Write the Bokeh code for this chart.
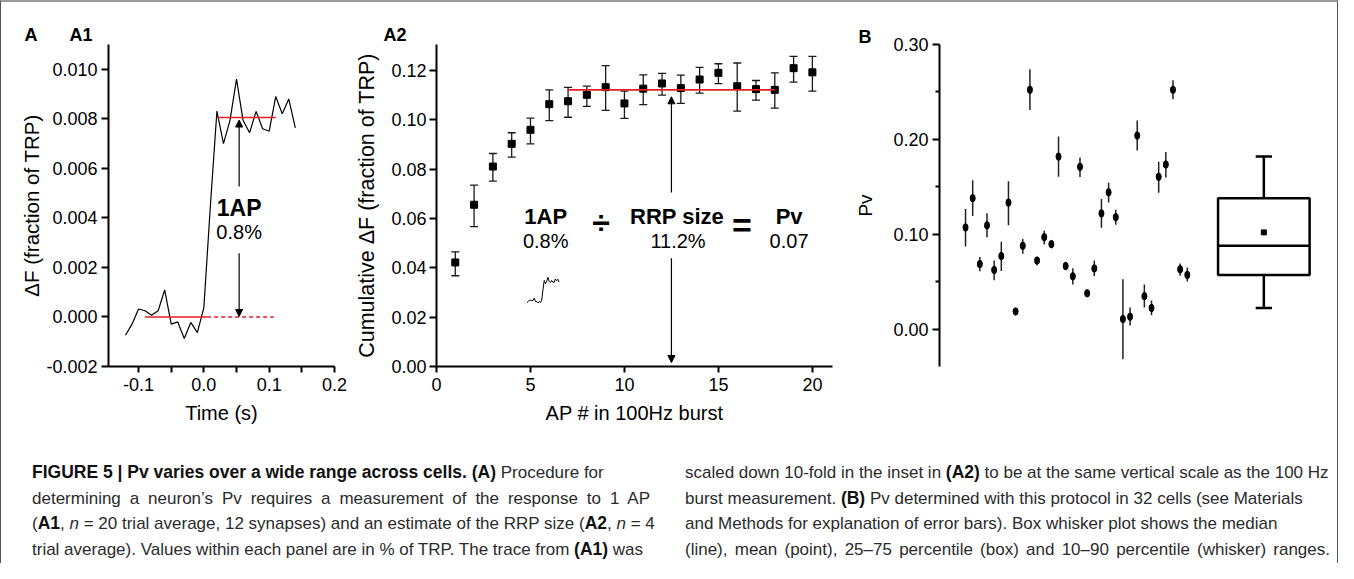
from bokeh.plotting import figure
from bokeh.models import (Range1d, FixedTicker, NumeralTickFormatter, Label, Arrow, Title,
                          NormalHead, Whisker, TeeHead, ColumnDataSource, Div)
from bokeh.layouts import row, column
from bokeh.embed import file_html
from bokeh.resources import INLINE

FONT = "Liberation Sans"
RED = "#e41e26"

# ---------------- data ----------------
# A1: 1 AP response (20-trial average)
a1_time = [-0.12, -0.11, -0.10, -0.09, -0.08, -0.07, -0.06, -0.05, -0.04, -0.03, -0.02, -0.01,
           0.00, 0.01, 0.02, 0.03, 0.04, 0.05, 0.06, 0.07, 0.08, 0.09, 0.10, 0.11, 0.12, 0.13, 0.14]
a1_dF = [-0.00074, -0.00029, 0.00032, 0.00025, 0.00007, 0.00025, 0.00109, -0.00029, -0.00020,
         -0.00087, -0.00022, -0.00063, 0.00038, 0.00450, 0.00831, 0.00700, 0.00794, 0.00960,
         0.00794, 0.00744, 0.00830, 0.00760, 0.00750, 0.00890, 0.00820, 0.00880, 0.00763]
a1_baseline = 0.0
a1_onep = 0.00805
a1_base_solid = [-0.09, 0.005]
a1_base_dash = [0.005, 0.107]
a1_step_span = [0.02, 0.11]

# A2: cumulative response in 100 Hz burst
a2_ap = [1, 2, 3, 4, 5, 6, 7, 8, 9, 10, 11, 12, 13, 14, 15, 16, 17, 18, 19, 20]
a2_cum = [0.0422, 0.0656, 0.0811, 0.0903, 0.0960, 0.1064, 0.1076, 0.1102, 0.1133, 0.1067,
          0.1127, 0.1148, 0.1129, 0.1164, 0.1191, 0.1137, 0.1125, 0.1122, 0.1210, 0.1193]
a2_upper = [0.0465, 0.0736, 0.0864, 0.0948, 0.1007, 0.1122, 0.1132, 0.1137, 0.1220, 0.1117,
            0.1183, 0.1189, 0.1182, 0.1213, 0.1228, 0.1231, 0.1160, 0.1191, 0.1258, 0.1258]
a2_lower = [0.0368, 0.0567, 0.0752, 0.0849, 0.0903, 0.0997, 0.1011, 0.1055, 0.1039, 0.1006,
            0.1062, 0.1101, 0.1067, 0.1109, 0.1147, 0.1036, 0.1080, 0.1048, 0.1153, 0.1117]
a2_rrp = 0.1122
a2_plateau = [7, 18]

# B: Pv in 32 cells
b_pv = [0.1071, 0.1380, 0.0685, 0.1093, 0.0623, 0.0769, 0.1333, 0.0185, 0.0877, 0.2522,
        0.0722, 0.0969, 0.0895, 0.1818, 0.0664, 0.0556, 0.1710, 0.0377, 0.0639, 0.1219,
        0.1441, 0.1179, 0.0105, 0.0130, 0.2040, 0.0346, 0.0222, 0.1605, 0.1735, 0.2522,
        0.0630, 0.0571]
b_hi = [0.1265, 0.1568, 0.0759, 0.1222, 0.0722, 0.0920, 0.1559, 0.0222, 0.0948, 0.2738,
        0.0759, 0.1037, 0.0932, 0.2031, 0.0698, 0.0642, 0.1809, 0.0401, 0.0722, 0.1370,
        0.1543, 0.1259, 0.0525, 0.0228, 0.2198, 0.0469, 0.0302, 0.1765, 0.1867, 0.2623,
        0.0691, 0.0648]
b_lo = [0.0870, 0.1191, 0.0608, 0.0969, 0.0515, 0.0611, 0.1093, 0.0148, 0.0793, 0.2309,
        0.0673, 0.0892, 0.0855, 0.1605, 0.0630, 0.0469, 0.1602, 0.0352, 0.0559, 0.1068,
        0.1333, 0.1099, -0.0318, 0.0037, 0.1883, 0.0228, 0.0145, 0.1438, 0.1599, 0.2423,
        0.0562, 0.0500]
b_p10, b_q1, b_median, b_mean, b_q3, b_p90 = 0.0222, 0.0571, 0.0877, 0.1019, 0.1380, 0.1818

# ticks
a1_xticks = [-0.1, 0.0, 0.1, 0.2]
a1_xminor = [-0.05, 0.05, 0.15]
a1_yticks = [-0.002, 0.0, 0.002, 0.004, 0.006, 0.008, 0.010]
a2_xticks = [0, 5, 10, 15, 20]
a2_yticks = [0.0, 0.02, 0.04, 0.06, 0.08, 0.10, 0.12]
b_yticks = [0.0, 0.1, 0.2, 0.3]
b_yminor = [0.05, 0.15, 0.25]

caption_left = [
    "<b>FIGURE 5 | Pv varies over a wide range across cells. (A)</b> Procedure for",
    "determining a neuron\u2019s Pv requires a measurement of the response to 1 AP",
    "(<b>A1</b>, <i>n</i> = 20 trial average, 12 synapses) and an estimate of the RRP size (<b>A2</b>, <i>n</i> = 4",
    "trial average). Values within each panel are in % of TRP. The trace from <b>(A1)</b> was",
]
caption_right = [
    "scaled down 10-fold in the inset in <b>(A2)</b> to be at the same vertical scale as the 100 Hz",
    "burst measurement. <b>(B)</b> Pv determined with this protocol in 32 cells (see Materials",
    "and Methods for explanation of error bars). Box whisker plot shows the median",
    "(line), mean (point), 25\u201375 percentile (box) and 10\u201390 percentile (whisker) ranges.",
]


# ---------------- helpers ----------------
def style(p):
    p.background_fill_color = "white"
    p.border_fill_color = "white"
    p.outline_line_color = None
    p.xgrid.visible = False
    p.ygrid.visible = False
    for ax in p.axis:
        ax.axis_line_width = 2
        ax.axis_line_color = "black"
        ax.major_tick_line_width = 2
        ax.minor_tick_line_width = 2
        ax.major_tick_line_color = "black"
        ax.minor_tick_line_color = "black"
        ax.major_tick_in = 0
        ax.minor_tick_in = 0
        ax.major_label_text_font = FONT
        ax.major_label_text_font_size = "18px"
        ax.major_label_text_color = "black"
        ax.axis_label_text_font = FONT
        ax.axis_label_text_font_style = "normal"
        ax.axis_label_text_font_size = "20px"
        ax.axis_label_text_color = "black"


def panel_title(p, text, offset, standoff):
    p.add_layout(Title(text=text, align="left", offset=offset, standoff=standoff,
                       text_font=FONT, text_font_size="18px", text_font_style="bold",
                       text_color="black"), "above")


def label(p, x, y, text, size, bold=False, align="center"):
    p.add_layout(Label(x=x, y=y, text=text, text_font=FONT, text_font_size=size,
                       text_font_style="bold" if bold else "normal", text_color="black",
                       text_align=align, text_baseline="middle"))


def arrow(p, x0, y0, x1, y1):
    p.add_layout(Arrow(end=NormalHead(size=7, fill_color="black", line_color="black", line_width=1),
                       x_start=x0, y_start=y0, x_end=x1, y_end=y1,
                       line_color="black", line_width=1.2))


H = 450

# ---------------- A1 ----------------
p1 = figure(width=351, height=H, x_range=Range1d(-0.146, 0.2), y_range=Range1d(-0.002, 0.011),
            min_border_left=107, min_border_right=18, min_border_top=42, min_border_bottom=86,
            output_backend="svg", toolbar_location=None)
style(p1)
p1.xaxis.ticker = FixedTicker(ticks=a1_xticks, minor_ticks=a1_xminor)
p1.xaxis.formatter = NumeralTickFormatter(format="0.0")
p1.xaxis.major_tick_out = 6
p1.xaxis.minor_tick_out = 6
p1.xaxis.major_label_standoff = 5
p1.yaxis.ticker = FixedTicker(ticks=a1_yticks)
p1.yaxis.formatter = NumeralTickFormatter(format="0.000")
p1.yaxis.major_tick_out = 7
p1.yaxis.major_label_standoff = 4
p1.xaxis.axis_label = "Time (s)"
p1.yaxis.axis_label = "\u0394F (fraction of TRP)"
p1.xaxis.axis_label_standoff = 8
p1.yaxis.axis_label_standoff = 0
p1.yaxis.axis_label_text_font_size = "20.5px"

p1.line(a1_time, a1_dF, line_color="black", line_width=1.2)
p1.line(a1_base_solid, [a1_baseline] * 2, line_color=RED, line_width=1.6)
p1.line(a1_base_dash, [a1_baseline] * 2, line_color=RED, line_width=1.4, line_dash="4 3")
p1.line(a1_step_span, [a1_onep] * 2, line_color=RED, line_width=1.6)
a1_arrow_x = 0.054
arrow(p1, a1_arrow_x, 0.00527, a1_arrow_x, a1_onep - 0.0001)
arrow(p1, a1_arrow_x, 0.00257, a1_arrow_x, a1_baseline + 0.00002)
label(p1, a1_arrow_x, 0.00439, "1AP", "23px", bold=True)
label(p1, a1_arrow_x, 0.00345, "%.1f%%" % (a1_onep * 100), "20px")
panel_title(p1, "A\u2003\u2002\u00a0A1", -84, -1.5)

# ---------------- A2 ----------------
p2 = figure(width=500, height=H, x_range=Range1d(0, 21.07), y_range=Range1d(0, 0.1306),
            min_border_left=73, min_border_right=20, min_border_top=42, min_border_bottom=86,
            output_backend="svg", toolbar_location=None)
style(p2)
p2.xaxis.ticker = FixedTicker(ticks=a2_xticks)
p2.xaxis.formatter = NumeralTickFormatter(format="0")
p2.xaxis.major_tick_out = 6
p2.xaxis.major_label_standoff = 5
p2.yaxis.ticker = FixedTicker(ticks=a2_yticks)
p2.yaxis.formatter = NumeralTickFormatter(format="0.00")
p2.yaxis.major_tick_out = 7
p2.yaxis.major_label_standoff = 3
p2.xaxis.axis_label = "AP # in 100Hz burst"
p2.yaxis.axis_label = "Cumulative \u0394F (fraction of TRP)"
p2.xaxis.axis_label_standoff = 8
p2.yaxis.axis_label_standoff = 9
p2.yaxis.axis_label_text_font_size = "21.5px"

src2 = ColumnDataSource(dict(x=a2_ap, y=a2_cum, upper=a2_upper, lower=a2_lower))
p2.add_layout(Whisker(source=src2, base="x", upper="upper", lower="lower", dimension="height",
                      line_color="#1a1a1a", line_width=1.3,
                      upper_head=TeeHead(size=8, line_width=1.3, line_color="#1a1a1a"),
                      lower_head=TeeHead(size=8, line_width=1.3, line_color="#1a1a1a")))
p2.scatter("x", "y", source=src2, marker="square", size=7, fill_color="black", line_color="black")
p2.line(a2_plateau, [a2_rrp] * 2, line_color=RED, line_width=1.6)

# inset: A1 trace on the A2 vertical scale
inset_x0, inset_xscale, inset_y0 = 5.6, 6.57, 0.0266
p2.line([inset_x0 + t * inset_xscale for t in a1_time], [inset_y0 + v for v in a1_dF],
        line_color="black", line_width=1.0)

a2_arrow_x = 12.5
arrow(p2, a2_arrow_x, 0.0706, a2_arrow_x, a2_rrp - 0.0028)
arrow(p2, a2_arrow_x, 0.0439, a2_arrow_x, 0.0016)
row1_y, row2_y = 0.0609, 0.0510
pv_value = a1_onep / a2_rrp
label(p2, 5.81, row1_y, "1AP", "22px", bold=True)
label(p2, 5.81, row2_y, "%.1f%%" % (a1_onep * 100), "20px")
label(p2, 8.75, 0.0582, "\u00f7", "32px", bold=True)
label(p2, 12.8, row1_y, "RRP size", "22px", bold=True)
label(p2, 12.85, row2_y, "%.1f%%" % (a2_rrp * 100), "20px")
label(p2, 16.25, 0.0574, "=", "34px", bold=True)
label(p2, 18.76, row1_y, "Pv", "22px", bold=True)
label(p2, 18.76, row2_y, "%.2f" % pv_value, "20px")
panel_title(p2, "A2", -53, -1.5)

# ---------------- B ----------------
p3 = figure(width=485, height=H, x_range=Range1d(-2.64, 51.6), y_range=Range1d(-0.0395, 0.30),
            min_border_left=77, min_border_right=10, min_border_top=39, min_border_bottom=43,
            output_backend="svg", toolbar_location=None)
style(p3)
p3.xaxis.visible = False
p3.yaxis.ticker = FixedTicker(ticks=b_yticks, minor_ticks=b_yminor)
p3.yaxis.formatter = NumeralTickFormatter(format="0.00")
p3.yaxis.major_tick_out = 7
p3.yaxis.minor_tick_out = 4
p3.yaxis.major_label_standoff = 4
p3.yaxis.axis_label = "Pv"
p3.yaxis.axis_label_standoff = 14
p3.yaxis.axis_label_text_font_size = "19px"

b_cells = list(range(1, len(b_pv) + 1))
src3 = ColumnDataSource(dict(x=b_cells, y=b_pv, hi=b_hi, lo=b_lo))
p3.segment(x0="x", y0="lo", x1="x", y1="hi", source=src3, line_color="#222222", line_width=1.5)
p3.ellipse(x="x", y="y", width=5, height=7.5, width_units="screen", height_units="screen",
           source=src3, fill_color="black", line_color="black")

box_x, box_half, cap_half = 42.7, 6.4, 1.14
p3.quad(left=[box_x - box_half], right=[box_x + box_half], bottom=[b_q1], top=[b_q3],
        fill_color=None, line_color="black", line_width=2.5)
p3.segment(x0=[box_x - box_half], y0=[b_median], x1=[box_x + box_half], y1=[b_median],
           line_color="black", line_width=2.5)
p3.segment(x0=[box_x, box_x], y0=[b_q3, b_q1], x1=[box_x, box_x], y1=[b_p90, b_p10],
           line_color="black", line_width=2.5)
p3.segment(x0=[box_x - cap_half] * 2, y0=[b_p90, b_p10], x1=[box_x + cap_half] * 2,
           y1=[b_p90, b_p10], line_color="black", line_width=2.5)
p3.scatter([box_x], [b_mean], marker="square", size=5, fill_color="black", line_color="black")
panel_title(p3, "B", -81, -4)

# ---------------- caption ----------------
bold_style = ("font-family:'Liberation Sans Narrow','Liberation Sans',sans-serif;"
              "font-weight:bold;font-size:17.5px;color:#111;")
LINE_H = 25.5


def fmt(lines, left, justify):
    out = []
    for i, l in enumerate(lines):
        l = l.replace("<b>", '<b style="%s">' % bold_style)
        st = "position:absolute;left:%dpx;top:%.1fpx;height:%.1fpx;line-height:%.1fpx;" % (
            left, 8 + i * LINE_H, LINE_H, LINE_H)
        if justify.get(i):
            st += "width:%dpx;text-align:justify;text-align-last:justify;white-space:normal;" % justify[i]
        else:
            st += "white-space:nowrap;"
        out.append('<div style="%s">%s</div>' % (st, l))
    return "".join(out)


html = ('<div style="position:relative;width:1336px;height:111px;overflow:hidden;'
        "font-family:'Liberation Sans',sans-serif;font-size:17px;color:#2b2b2b;\">"
        + fmt(caption_left, 31, {1: 618})
        + fmt(caption_right, 684, {3: 645})
        + "</div>")
cap = Div(text=html, width=1336, height=111, margin=(0, 0, 0, 0))

layout = column(row(p1, p2, p3), cap,
                styles={"border-top": "2px solid #9a9a9a", "border-left": "1px solid #555",
                        "border-right": "1px solid #555"})

open("out.html", "w").write(file_html(layout, INLINE))
